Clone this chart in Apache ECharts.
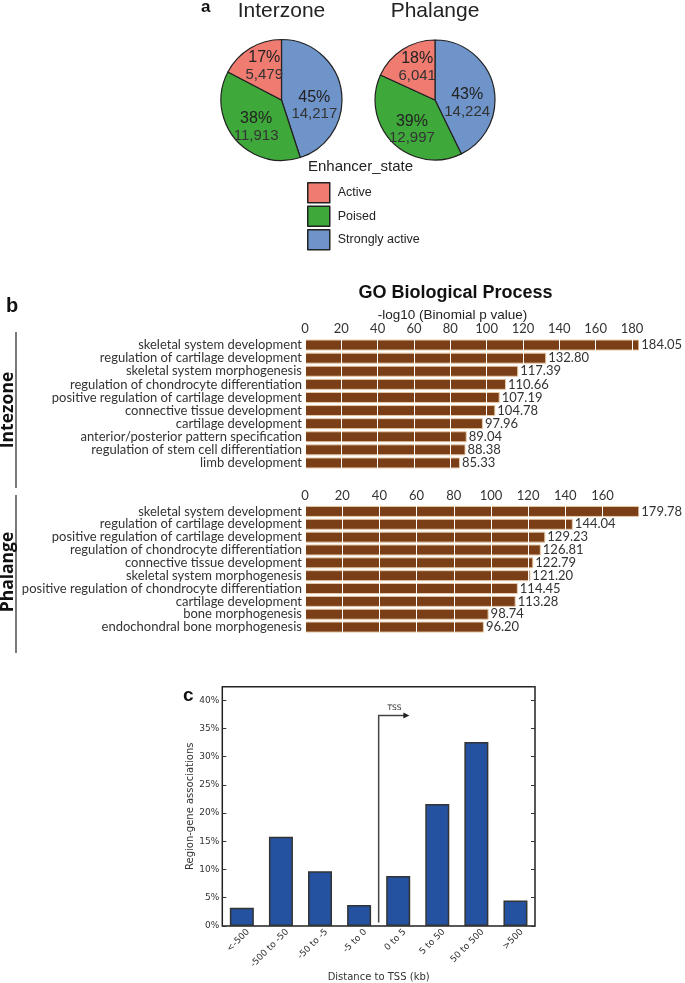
<!DOCTYPE html>
<html><head><meta charset="utf-8">
<script src="https://cdn.jsdelivr.net/npm/echarts@6/dist/echarts.min.js"></script>
<style>html,body{margin:0;padding:0;background:#fff}#c{width:685px;height:983px}</style>
</head><body><div id="c"></div>
<script>
// ---- data ----
const stateNames = ['Strongly active', 'Poised', 'Active'];
const interzoneCounts = [14217, 11913, 5479];
const phalangeCounts = [14224, 12997, 6041];

const interzoneTerms = ['skeletal system development','regulation of cartilage development','skeletal system morphogenesis','regulation of chondrocyte differentiation','positive regulation of cartilage development','connective tissue development','cartilage development','anterior/posterior pattern specification','regulation of stem cell differentiation','limb development'];
const interzoneValues = [184.05, 132.80, 117.39, 110.66, 107.19, 104.78, 97.96, 89.04, 88.38, 85.33];
const phalangeTerms = ['skeletal system development','regulation of cartilage development','positive regulation of cartilage development','regulation of chondrocyte differentiation','connective tissue development','skeletal system morphogenesis','positive regulation of chondrocyte differentiation','cartilage development','bone morphogenesis','endochondral bone morphogenesis'];
const phalangeValues = [179.78, 144.04, 129.23, 126.81, 122.79, 121.20, 114.45, 113.28, 98.74, 96.20];

const tssCategories = ['<-500','-500 to -50','-50 to -5','-5 to 0','0 to 5','5 to 50','50 to 500','>500'];
const tssValues = [3.2, 15.8, 9.7, 3.7, 8.85, 21.6, 32.6, 4.5];

// ---- styles ----
const stateColors = {'Active':'#ef7b71','Poised':'#3fa83a','Strongly active':'#6e94c9'};
const labelNudge = {'Strongly active':5.5, 'Poised':3, 'Active':-2.5};
const SANS = 'Liberation Sans';
const LBL = 'Lato';
const MPL = 'DejaVu Sans';

function commas(n){ return String(n).replace(/\B(?=(\d{3})+(?!\d))/g, ','); }
function pieData(counts){
  return stateNames.map((n,i)=>({name:n, value:counts[i], itemStyle:{color:stateColors[n]}}));
}
const pieLabel = {
  show:true, position:'inside',
  formatter: p => '{p|' + Math.round(p.percent) + '%}\n{n|' + commas(p.value) + '}',
  rich:{ p:{fontSize:16, color:'#222', fontFamily:SANS, lineHeight:17},
         n:{fontSize:15, color:'#333', fontFamily:SANS, lineHeight:17} }
};
function pieSeries(name, center, r, counts){
  return {type:'pie', name:name, center:center, radius:r, startAngle:90, clockwise:true,
    data:pieData(counts), label:pieLabel, labelLine:{show:false}, silent:true, animation:false,
    labelLayout: p => ({dy: labelNudge[stateNames[p.dataIndex]]}),
    itemStyle:{borderColor:'#222', borderWidth:1.2}, emphasis:{disabled:true}};
}
function goX(gi, values){
  return {type:'value', gridIndex:gi, position:'top', min:0, max:Math.max(...values), interval:20, z:3,
    axisLine:{show:false}, axisTick:{show:false},
    axisLabel:{fontSize:13, color:'#333', fontFamily:LBL, margin:3, showMaxLabel:false},
    splitLine:{show:true, lineStyle:{color:'#ffffff', width:1}}};
}
function goY(gi, terms){
  return {type:'category', gridIndex:gi, inverse:true, data:terms,
    axisLine:{show:false}, axisTick:{show:false},
    axisLabel:{interval:0, fontSize:13, color:'#333', fontFamily:LBL, margin:3}};
}
function goBars(i, values){
  return [
    {type:'bar', xAxisIndex:i, yAxisIndex:i, data:values, barWidth:11, z:2, animation:false, silent:true,
     itemStyle:{color:'#7b3f17', borderColor:'#e6c9a8', borderWidth:1}},
    {type:'bar', xAxisIndex:i, yAxisIndex:i, data:values, barWidth:11, barGap:'-100%', z:4, animation:false, silent:true,
     itemStyle:{color:'rgba(0,0,0,0)'},
     label:{show:true, position:'right', distance:2, fontSize:13, color:'#333', fontFamily:LBL,
            formatter:p=>p.value.toFixed(2)}}
  ];
}

const chart = echarts.init(document.getElementById('c'), null, {renderer:'canvas'});
const option = {
  backgroundColor:'#fff',
  animation:false,
  title:[
    {text:'a', left:201, top:-1, padding:0, textStyle:{fontSize:17, fontWeight:'bold', fontFamily:SANS, color:'#111'}},
    {text:'Interzone', left:281.5, top:1, padding:0, textAlign:'center', textStyle:{fontSize:21, fontWeight:'normal', fontFamily:SANS, color:'#222'}},
    {text:'Phalange', left:435, top:1, padding:0, textAlign:'center', textStyle:{fontSize:21, fontWeight:'normal', fontFamily:SANS, color:'#222'}},
    {text:'Enhancer_state', left:308, top:159, padding:0, textStyle:{fontSize:15, fontWeight:'normal', fontFamily:SANS, color:'#222'}},
    {text:'b', left:6, top:296, padding:0, textStyle:{fontSize:20, fontWeight:'bold', fontFamily:SANS, color:'#111'}},
    {text:'GO Biological Process', left:455.5, top:284, padding:0, textAlign:'center', textStyle:{fontSize:18, fontWeight:'bold', fontFamily:SANS, color:'#111'}},
    {text:'-log10 (Binomial p value)', left:452.5, top:308, padding:0, textAlign:'center', textStyle:{fontSize:13.5, fontWeight:'normal', fontFamily:SANS, color:'#222'}},
    {text:'c', left:183, top:686, padding:0, textStyle:{fontSize:19, fontWeight:'bold', fontFamily:SANS, color:'#111'}}
  ],
  legend:{data:['Active','Poised','Strongly active'], orient:'vertical', left:307, top:182, padding:0,
    itemWidth:22, itemHeight:20, itemGap:2, icon:'rect', selectedMode:false,
    itemStyle:{borderColor:'#222', borderWidth:1.5},
    textStyle:{fontSize:12.5, color:'#222', fontFamily:SANS, padding:[0,0,0,3]}},
  grid:[
    {left:305, width:334.3, top:338.5, height:131},
    {left:305, width:334.3, top:505, height:128.5},
    {left:222.3, width:312.7, top:686.7, height:242.6, show:true, borderColor:'#222', borderWidth:1.5, backgroundColor:'transparent'}
  ],
  xAxis:[
    goX(0, interzoneValues),
    goX(1, phalangeValues),
    {type:'category', gridIndex:2, data:tssCategories,
     axisLine:{show:false}, axisTick:{show:false},
     axisLabel:{interval:0, rotate:45, fontSize:9, color:'#333', fontFamily:MPL, margin:11, padding:[0,-9,0,0]},
     name:'Distance to TSS (kb)', nameLocation:'middle', nameGap:41,
     nameTextStyle:{fontSize:10, color:'#333', fontFamily:MPL}}
  ],
  yAxis:[
    goY(0, interzoneTerms),
    goY(1, phalangeTerms),
    {type:'value', gridIndex:2, min:0, max:42.4, interval:5, position:'left',
     axisLine:{show:false}, axisTick:{show:true, inside:true, length:4, lineStyle:{color:'#333'}},
     splitLine:{show:false},
     axisLabel:{formatter:'{value}%', fontSize:9, color:'#333', fontFamily:MPL, margin:3, showMaxLabel:false},
     name:'Region-gene associations', nameLocation:'middle', nameGap:27,
     nameTextStyle:{fontSize:10, color:'#333', fontFamily:MPL}},
    {type:'value', gridIndex:2, min:0, max:42.4, interval:5, position:'right',
     axisLine:{show:false}, axisTick:{show:true, inside:true, length:4, lineStyle:{color:'#333'}},
     splitLine:{show:false}, axisLabel:{show:false}}
  ],
  series:[
    pieSeries('Interzone', [281.5, 100], 60.5, interzoneCounts),
    pieSeries('Phalange', [435, 100], 60, phalangeCounts),
    ...goBars(0, interzoneValues),
    ...goBars(1, phalangeValues),
    {type:'bar', xAxisIndex:2, yAxisIndex:2, data:tssValues, barWidth:24, animation:false, silent:true,
     itemStyle:{color:'#2452a0', borderColor:'#333', borderWidth:1.5}}
  ]
};
chart.setOption(option);

// annotations positioned via the chart's own scales
const xa = chart.convertToPixel({xAxisIndex:2}, tssCategories[3]);
const xb = chart.convertToPixel({xAxisIndex:2}, tssCategories[4]);
const xm = (xa + xb) / 2;
const xe = xm + (xb - xa) * 0.76;
const yBot = chart.convertToPixel({yAxisIndex:2}, 0.6);
const yTop = chart.convertToPixel({yAxisIndex:2}, 37.3);

const line1 = [332, 488], line2 = [495, 653];
chart.setOption({graphic:[
  {type:'polyline', shape:{points:[[xm,yBot],[xm,yTop],[xe-4,yTop]]}, style:{stroke:'#444', lineWidth:1.5, fill:null}},
  {type:'polygon', shape:{points:[[xe-5,yTop-3],[xe+1,yTop],[xe-5,yTop+3]]}, style:{fill:'#222'}},
  {type:'text', x:(xm+xe)/2 + 1, y:yTop-7, style:{text:'TSS', fontSize:7.5, fontFamily:MPL, fill:'#222', align:'center', verticalAlign:'middle'}},
  {type:'line', shape:{x1:16, y1:line1[0], x2:16, y2:line1[1]}, style:{stroke:'#222', lineWidth:1.2}},
  {type:'line', shape:{x1:16, y1:line2[0], x2:16, y2:line2[1]}, style:{stroke:'#222', lineWidth:1.2}},
  {type:'text', x:8, y:(line1[0]+line1[1])/2, rotation:Math.PI/2, style:{text:'Intezone', fontSize:17.5, fontWeight:'bold', fontFamily:'Open Sans', fill:'#111', align:'center', verticalAlign:'middle'}},
  {type:'text', x:8, y:(line2[0]+line2[1])/2 - 2, rotation:Math.PI/2, style:{text:'Phalange', fontSize:17.5, fontWeight:'bold', fontFamily:'Open Sans', fill:'#111', align:'center', verticalAlign:'middle'}}
]});
</script></body></html>
